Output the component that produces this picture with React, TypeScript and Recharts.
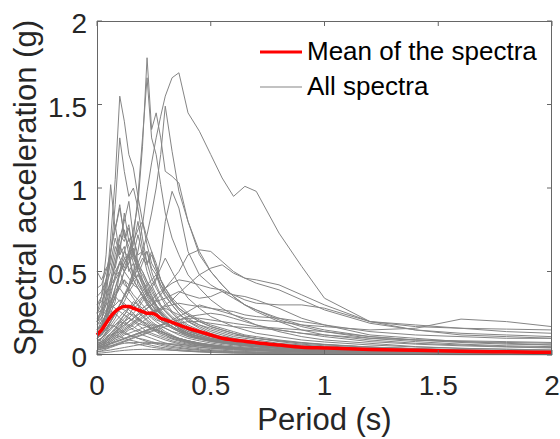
import React from 'react';
import { LineChart, Line, XAxis, YAxis } from 'recharts';

// periods (s) shared by every spectrum
const PERIODS = [0, 0.02, 0.04, 0.06, 0.08, 0.1, 0.12, 0.14, 0.16, 0.18, 0.2, 0.22, 0.24, 0.26, 0.28, 0.3, 0.33, 0.36, 0.4, 0.45, 0.5, 0.55, 0.6, 0.65, 0.7, 0.8, 0.9, 1.0, 1.2, 1.4, 1.6, 1.8, 2.0];

const MEAN_SA = [0.12, 0.15, 0.19, 0.23, 0.26, 0.28, 0.29, 0.29, 0.28, 0.27, 0.26, 0.25, 0.25, 0.24, 0.22, 0.21, 0.195, 0.18, 0.16, 0.14, 0.12, 0.1, 0.09, 0.082, 0.074, 0.06, 0.047, 0.042, 0.033, 0.028, 0.023, 0.019, 0.016];

// large records
const BIG_SPECTRA = [
  [0.12, 0.13, 0.16, 0.2, 0.24, 0.3, 0.36, 0.42, 0.5, 0.62, 0.78, 0.98, 1.15, 1.3, 1.43, 1.55, 1.66, 1.69, 1.45, 1.34, 1.2, 1.06, 0.95, 1.01, 0.98, 0.73, 0.53, 0.34, 0.2, 0.17, 0.16, 0.155, 0.15],
  [0.15, 0.18, 0.25, 0.3, 0.4, 0.5, 0.55, 0.6, 0.75, 0.9, 1.25, 1.78, 1.35, 1.45, 1.3, 1.1, 1.07, 1.03, 0.8, 0.62, 0.5, 0.42, 0.35, 0.3, 0.26, 0.2, 0.15, 0.12, 0.09, 0.07, 0.06, 0.05, 0.045],
  [0.13, 0.15, 0.2, 0.28, 0.35, 0.42, 0.5, 0.58, 0.7, 0.95, 1.3, 1.66, 1.3, 1.2, 1.02, 0.85, 0.7, 0.6, 0.48, 0.4, 0.33, 0.28, 0.24, 0.21, 0.18, 0.14, 0.11, 0.09, 0.07, 0.05, 0.04, 0.035, 0.03],
  [0.1, 0.12, 0.15, 0.2, 0.25, 0.3, 0.35, 0.4, 0.48, 0.55, 0.62, 0.72, 0.85, 1.0, 1.2, 1.49, 1.22, 0.98, 0.8, 0.6, 0.5, 0.42, 0.35, 0.3, 0.27, 0.21, 0.17, 0.14, 0.1, 0.08, 0.065, 0.055, 0.05],
  [0.2, 0.25, 0.4, 0.7, 1.05, 1.55, 1.4, 1.2, 1.12, 0.95, 0.8, 0.7, 0.62, 0.52, 0.45, 0.4, 0.33, 0.28, 0.24, 0.2, 0.17, 0.15, 0.13, 0.11, 0.1, 0.08, 0.065, 0.055, 0.04, 0.03, 0.025, 0.02, 0.018],
  [0.15, 0.2, 0.35, 0.6, 0.9, 1.3, 1.1, 0.95, 1.0, 0.88, 0.7, 0.55, 0.62, 0.55, 0.45, 0.38, 0.32, 0.27, 0.22, 0.18, 0.15, 0.13, 0.11, 0.1, 0.09, 0.07, 0.06, 0.05, 0.035, 0.028, 0.022, 0.018, 0.015],
  [0.25, 0.35, 0.6, 1.02, 0.75, 0.9, 0.7, 0.78, 0.6, 0.5, 0.45, 0.38, 0.33, 0.3, 0.27, 0.24, 0.2, 0.18, 0.15, 0.13, 0.11, 0.1, 0.09, 0.08, 0.07, 0.06, 0.05, 0.04, 0.03, 0.025, 0.02, 0.017, 0.015],
  [0.08, 0.09, 0.11, 0.13, 0.15, 0.18, 0.2, 0.22, 0.25, 0.28, 0.32, 0.36, 0.4, 0.45, 0.58, 0.8, 0.98, 0.88, 0.62, 0.48, 0.42, 0.38, 0.34, 0.3, 0.27, 0.22, 0.18, 0.15, 0.11, 0.09, 0.075, 0.065, 0.06],
];

// records with long-period content
const LONG_SPECTRA = [
  [0.06, 0.07, 0.08, 0.1, 0.12, 0.14, 0.16, 0.18, 0.2, 0.22, 0.25, 0.28, 0.3, 0.33, 0.36, 0.4, 0.45, 0.5, 0.6, 0.63, 0.62, 0.56, 0.5, 0.46, 0.43, 0.39, 0.33, 0.27, 0.19, 0.15, 0.12, 0.11, 0.1],
  [0.05, 0.06, 0.07, 0.08, 0.1, 0.11, 0.13, 0.15, 0.16, 0.18, 0.2, 0.22, 0.24, 0.26, 0.28, 0.3, 0.33, 0.37, 0.42, 0.48, 0.52, 0.54, 0.49, 0.46, 0.45, 0.42, 0.36, 0.3, 0.2, 0.15, 0.13, 0.12, 0.11],
  [0.05, 0.05, 0.06, 0.07, 0.08, 0.09, 0.1, 0.11, 0.12, 0.13, 0.14, 0.15, 0.16, 0.17, 0.18, 0.19, 0.21, 0.23, 0.26, 0.3, 0.28, 0.26, 0.24, 0.22, 0.21, 0.2, 0.18, 0.17, 0.15, 0.16, 0.215, 0.2, 0.17],
  [0.07, 0.08, 0.1, 0.12, 0.14, 0.16, 0.18, 0.2, 0.22, 0.24, 0.26, 0.28, 0.3, 0.32, 0.33, 0.34, 0.36, 0.38, 0.36, 0.34, 0.35, 0.38, 0.36, 0.33, 0.31, 0.3, 0.3, 0.28, 0.2, 0.18, 0.16, 0.14, 0.13],
  [0.06, 0.07, 0.09, 0.11, 0.13, 0.15, 0.17, 0.2, 0.22, 0.25, 0.28, 0.3, 0.33, 0.36, 0.38, 0.4, 0.43, 0.45, 0.44, 0.42, 0.4, 0.39, 0.36, 0.35, 0.33, 0.28, 0.22, 0.18, 0.12, 0.1, 0.08, 0.07, 0.06],
  [0.04, 0.045, 0.055, 0.065, 0.075, 0.085, 0.095, 0.105, 0.115, 0.125, 0.135, 0.145, 0.155, 0.165, 0.175, 0.185, 0.2, 0.21, 0.22, 0.22, 0.21, 0.2, 0.19, 0.18, 0.17, 0.16, 0.15, 0.14, 0.11, 0.09, 0.08, 0.075, 0.07],
  [0.05, 0.06, 0.07, 0.09, 0.11, 0.13, 0.15, 0.17, 0.19, 0.21, 0.23, 0.25, 0.26, 0.27, 0.28, 0.29, 0.3, 0.31, 0.3, 0.29, 0.28, 0.27, 0.26, 0.24, 0.23, 0.22, 0.2, 0.18, 0.14, 0.12, 0.11, 0.1, 0.1],
  [0.04, 0.05, 0.06, 0.07, 0.08, 0.09, 0.1, 0.11, 0.12, 0.13, 0.14, 0.15, 0.16, 0.17, 0.18, 0.19, 0.2, 0.21, 0.23, 0.24, 0.25, 0.24, 0.22, 0.2, 0.18, 0.15, 0.13, 0.11, 0.08, 0.065, 0.055, 0.048, 0.042],
  [0.03, 0.035, 0.04, 0.05, 0.06, 0.07, 0.08, 0.09, 0.1, 0.11, 0.12, 0.13, 0.14, 0.15, 0.16, 0.17, 0.18, 0.19, 0.2, 0.2, 0.19, 0.18, 0.17, 0.165, 0.16, 0.15, 0.13, 0.12, 0.1, 0.09, 0.085, 0.08, 0.075],
];

// medium short-period records
const MID_SPECTRA = [
  [0.1, 0.14, 0.25, 0.4, 0.55, 0.7, 0.8, 0.92, 0.7, 0.6, 0.62, 0.5, 0.42, 0.36, 0.3, 0.26, 0.22, 0.19, 0.15, 0.12, 0.1, 0.09, 0.08, 0.07, 0.06, 0.05, 0.04, 0.035, 0.025, 0.02, 0.016, 0.013, 0.011],
  [0.3, 0.35, 0.45, 0.55, 0.7, 0.6, 0.85, 0.68, 0.72, 0.55, 0.45, 0.4, 0.35, 0.3, 0.25, 0.22, 0.19, 0.16, 0.13, 0.11, 0.09, 0.08, 0.07, 0.06, 0.055, 0.045, 0.038, 0.032, 0.024, 0.019, 0.015, 0.013, 0.011],
  [0.2, 0.28, 0.45, 0.62, 0.78, 0.6, 0.65, 0.5, 0.55, 0.42, 0.38, 0.32, 0.28, 0.25, 0.22, 0.2, 0.17, 0.15, 0.12, 0.1, 0.085, 0.075, 0.065, 0.058, 0.05, 0.042, 0.035, 0.03, 0.022, 0.017, 0.014, 0.012, 0.01],
  [0.12, 0.15, 0.2, 0.28, 0.35, 0.42, 0.5, 0.55, 0.6, 0.72, 0.6, 0.62, 0.5, 0.42, 0.36, 0.32, 0.26, 0.22, 0.18, 0.15, 0.12, 0.1, 0.09, 0.08, 0.07, 0.058, 0.048, 0.04, 0.03, 0.024, 0.02, 0.017, 0.015],
  [0.18, 0.22, 0.3, 0.42, 0.55, 0.66, 0.58, 0.6, 0.48, 0.45, 0.38, 0.33, 0.3, 0.26, 0.22, 0.2, 0.17, 0.14, 0.12, 0.1, 0.085, 0.072, 0.063, 0.055, 0.05, 0.04, 0.034, 0.028, 0.02, 0.016, 0.013, 0.011, 0.01],
  [0.08, 0.1, 0.13, 0.18, 0.22, 0.28, 0.32, 0.38, 0.42, 0.48, 0.55, 0.62, 0.52, 0.48, 0.4, 0.35, 0.3, 0.25, 0.2, 0.17, 0.14, 0.12, 0.1, 0.09, 0.08, 0.065, 0.055, 0.045, 0.034, 0.027, 0.022, 0.019, 0.016],
  [0.5, 0.45, 0.52, 0.55, 0.48, 0.5, 0.42, 0.4, 0.36, 0.33, 0.3, 0.27, 0.24, 0.22, 0.2, 0.18, 0.16, 0.14, 0.12, 0.1, 0.085, 0.075, 0.066, 0.058, 0.052, 0.043, 0.036, 0.03, 0.022, 0.018, 0.015, 0.013, 0.011],
  [0.1, 0.13, 0.2, 0.28, 0.35, 0.4, 0.45, 0.42, 0.5, 0.44, 0.4, 0.35, 0.3, 0.27, 0.24, 0.22, 0.19, 0.16, 0.13, 0.11, 0.09, 0.08, 0.07, 0.062, 0.055, 0.045, 0.038, 0.032, 0.024, 0.019, 0.016, 0.014, 0.012],
  [0.06, 0.08, 0.1, 0.13, 0.16, 0.2, 0.24, 0.28, 0.3, 0.34, 0.38, 0.42, 0.45, 0.48, 0.42, 0.38, 0.32, 0.28, 0.24, 0.2, 0.17, 0.15, 0.13, 0.115, 0.1, 0.085, 0.072, 0.062, 0.047, 0.038, 0.031, 0.026, 0.022],
  [0.12, 0.15, 0.22, 0.3, 0.38, 0.42, 0.45, 0.38, 0.34, 0.3, 0.26, 0.23, 0.2, 0.18, 0.16, 0.14, 0.12, 0.1, 0.085, 0.07, 0.06, 0.052, 0.046, 0.04, 0.036, 0.03, 0.025, 0.021, 0.016, 0.013, 0.01, 0.009, 0.008],
  [0.4, 0.42, 0.5, 0.62, 0.75, 0.88, 0.72, 0.65, 0.55, 0.5, 0.42, 0.36, 0.32, 0.28, 0.25, 0.22, 0.19, 0.16, 0.13, 0.11, 0.09, 0.08, 0.07, 0.062, 0.055, 0.045, 0.037, 0.031, 0.023, 0.018, 0.015, 0.013, 0.011],
  [0.05, 0.06, 0.08, 0.1, 0.13, 0.16, 0.2, 0.24, 0.28, 0.3, 0.34, 0.38, 0.42, 0.46, 0.52, 0.58, 0.5, 0.42, 0.34, 0.28, 0.23, 0.2, 0.17, 0.15, 0.13, 0.11, 0.09, 0.078, 0.06, 0.048, 0.04, 0.034, 0.03],
  [0.15, 0.18, 0.25, 0.32, 0.4, 0.48, 0.55, 0.62, 0.68, 0.75, 0.8, 0.66, 0.55, 0.5, 0.42, 0.36, 0.3, 0.25, 0.2, 0.16, 0.13, 0.11, 0.1, 0.085, 0.075, 0.06, 0.05, 0.042, 0.031, 0.025, 0.02, 0.017, 0.015],
  [0.22, 0.26, 0.35, 0.45, 0.5, 0.55, 0.62, 0.7, 0.58, 0.52, 0.48, 0.42, 0.36, 0.3, 0.26, 0.23, 0.19, 0.16, 0.13, 0.11, 0.09, 0.08, 0.07, 0.06, 0.054, 0.044, 0.036, 0.03, 0.022, 0.017, 0.014, 0.012, 0.01],
  [0.35, 0.38, 0.45, 0.6, 0.52, 0.65, 0.75, 0.6, 0.62, 0.5, 0.44, 0.38, 0.34, 0.3, 0.26, 0.23, 0.2, 0.17, 0.14, 0.12, 0.1, 0.085, 0.075, 0.066, 0.058, 0.047, 0.039, 0.033, 0.024, 0.019, 0.016, 0.013, 0.011],
  [0.1, 0.12, 0.18, 0.25, 0.32, 0.5, 0.62, 0.58, 0.66, 0.8, 0.64, 0.55, 0.46, 0.4, 0.35, 0.3, 0.25, 0.21, 0.17, 0.14, 0.12, 0.1, 0.088, 0.077, 0.068, 0.055, 0.046, 0.039, 0.029, 0.023, 0.019, 0.016, 0.014],
  [0.25, 0.3, 0.42, 0.5, 0.65, 0.58, 0.52, 0.6, 0.45, 0.4, 0.36, 0.31, 0.27, 0.24, 0.21, 0.19, 0.16, 0.14, 0.11, 0.095, 0.08, 0.07, 0.062, 0.055, 0.049, 0.04, 0.033, 0.028, 0.021, 0.016, 0.013, 0.011, 0.01],
  [0.12, 0.15, 0.22, 0.35, 0.48, 0.56, 0.5, 0.55, 0.64, 0.52, 0.5, 0.44, 0.4, 0.34, 0.3, 0.27, 0.23, 0.2, 0.16, 0.13, 0.11, 0.095, 0.083, 0.073, 0.065, 0.053, 0.044, 0.037, 0.028, 0.022, 0.018, 0.015, 0.013],
  [0.08, 0.1, 0.14, 0.2, 0.26, 0.3, 0.35, 0.4, 0.46, 0.52, 0.58, 0.54, 0.6, 0.52, 0.45, 0.4, 0.34, 0.3, 0.25, 0.21, 0.18, 0.16, 0.14, 0.12, 0.11, 0.09, 0.075, 0.064, 0.048, 0.038, 0.031, 0.026, 0.022],
  [0.3, 0.32, 0.38, 0.42, 0.46, 0.55, 0.5, 0.46, 0.42, 0.4, 0.35, 0.3, 0.27, 0.24, 0.22, 0.2, 0.17, 0.15, 0.12, 0.1, 0.088, 0.076, 0.067, 0.059, 0.052, 0.042, 0.035, 0.03, 0.022, 0.017, 0.014, 0.012, 0.01],
  [0.14, 0.17, 0.25, 0.38, 0.45, 0.5, 0.58, 0.52, 0.45, 0.48, 0.42, 0.37, 0.33, 0.29, 0.25, 0.22, 0.19, 0.16, 0.13, 0.11, 0.092, 0.08, 0.07, 0.062, 0.055, 0.045, 0.037, 0.031, 0.023, 0.018, 0.015, 0.013, 0.011],
  [0.2, 0.24, 0.32, 0.45, 0.6, 0.72, 0.68, 0.76, 0.62, 0.55, 0.5, 0.44, 0.38, 0.33, 0.29, 0.26, 0.22, 0.19, 0.15, 0.13, 0.11, 0.095, 0.083, 0.073, 0.065, 0.053, 0.044, 0.037, 0.028, 0.022, 0.018, 0.015, 0.013],
];

// weak records
const LOW_SPECTRA = [
  [0.15, 0.18, 0.25, 0.32, 0.37, 0.4, 0.36, 0.33, 0.3, 0.27, 0.24, 0.21, 0.19, 0.17, 0.15, 0.13, 0.11, 0.095, 0.08, 0.065, 0.055, 0.048, 0.042, 0.037, 0.033, 0.027, 0.022, 0.019, 0.014, 0.011, 0.009, 0.008, 0.007],
  [0.08, 0.1, 0.13, 0.16, 0.2, 0.23, 0.26, 0.28, 0.3, 0.32, 0.35, 0.33, 0.3, 0.27, 0.25, 0.22, 0.19, 0.17, 0.14, 0.12, 0.1, 0.09, 0.08, 0.07, 0.063, 0.052, 0.044, 0.037, 0.028, 0.022, 0.018, 0.015, 0.013],
  [0.2, 0.22, 0.27, 0.3, 0.28, 0.26, 0.24, 0.22, 0.2, 0.18, 0.16, 0.14, 0.13, 0.12, 0.11, 0.1, 0.085, 0.075, 0.065, 0.055, 0.047, 0.041, 0.036, 0.032, 0.029, 0.024, 0.02, 0.017, 0.013, 0.01, 0.008, 0.007, 0.006],
  [0.06, 0.07, 0.1, 0.13, 0.16, 0.19, 0.22, 0.25, 0.24, 0.22, 0.2, 0.18, 0.16, 0.15, 0.13, 0.12, 0.1, 0.09, 0.075, 0.063, 0.054, 0.047, 0.041, 0.036, 0.032, 0.026, 0.022, 0.018, 0.013, 0.01, 0.008, 0.007, 0.006],
  [0.08, 0.1, 0.13, 0.16, 0.18, 0.2, 0.19, 0.17, 0.15, 0.14, 0.12, 0.11, 0.1, 0.09, 0.08, 0.072, 0.062, 0.054, 0.045, 0.038, 0.032, 0.028, 0.024, 0.021, 0.019, 0.015, 0.013, 0.011, 0.008, 0.006, 0.005, 0.004, 0.004],
  [0.03, 0.035, 0.045, 0.055, 0.065, 0.075, 0.085, 0.095, 0.105, 0.115, 0.125, 0.135, 0.145, 0.15, 0.14, 0.13, 0.115, 0.1, 0.085, 0.072, 0.062, 0.054, 0.047, 0.042, 0.038, 0.031, 0.026, 0.022, 0.016, 0.013, 0.011, 0.009, 0.008],
  [0.05, 0.06, 0.08, 0.1, 0.12, 0.11, 0.1, 0.09, 0.085, 0.078, 0.07, 0.064, 0.058, 0.052, 0.047, 0.043, 0.037, 0.032, 0.027, 0.022, 0.019, 0.016, 0.014, 0.012, 0.011, 0.009, 0.007, 0.006, 0.005, 0.004, 0.003, 0.003, 0.002],
  [0.02, 0.025, 0.035, 0.045, 0.055, 0.065, 0.08, 0.075, 0.07, 0.064, 0.058, 0.052, 0.047, 0.043, 0.039, 0.035, 0.03, 0.026, 0.022, 0.018, 0.015, 0.013, 0.011, 0.01, 0.009, 0.007, 0.006, 0.005, 0.004, 0.003, 0.002, 0.002, 0.002],
  [0.04, 0.05, 0.06, 0.08, 0.1, 0.12, 0.14, 0.16, 0.18, 0.2, 0.22, 0.24, 0.25, 0.26, 0.27, 0.28, 0.26, 0.24, 0.21, 0.18, 0.16, 0.14, 0.12, 0.11, 0.1, 0.085, 0.072, 0.062, 0.047, 0.037, 0.03, 0.026, 0.022],
  [0.25, 0.27, 0.3, 0.33, 0.35, 0.32, 0.3, 0.27, 0.25, 0.22, 0.2, 0.18, 0.16, 0.14, 0.13, 0.12, 0.1, 0.088, 0.075, 0.062, 0.053, 0.046, 0.04, 0.035, 0.031, 0.025, 0.021, 0.018, 0.013, 0.01, 0.008, 0.007, 0.006],
  [0.04, 0.05, 0.07, 0.09, 0.11, 0.13, 0.15, 0.17, 0.19, 0.22, 0.2, 0.19, 0.17, 0.15, 0.14, 0.13, 0.11, 0.1, 0.085, 0.07, 0.06, 0.052, 0.046, 0.04, 0.036, 0.03, 0.025, 0.021, 0.016, 0.012, 0.01, 0.008, 0.007],
  [0.01, 0.012, 0.015, 0.018, 0.022, 0.025, 0.028, 0.03, 0.032, 0.033, 0.034, 0.034, 0.033, 0.032, 0.031, 0.03, 0.028, 0.026, 0.023, 0.02, 0.018, 0.016, 0.014, 0.013, 0.012, 0.01, 0.008, 0.007, 0.005, 0.004, 0.003, 0.003, 0.003],
  [0.1, 0.12, 0.16, 0.18, 0.17, 0.15, 0.14, 0.12, 0.11, 0.1, 0.09, 0.08, 0.072, 0.065, 0.058, 0.052, 0.045, 0.04, 0.034, 0.028, 0.024, 0.021, 0.018, 0.016, 0.014, 0.012, 0.01, 0.008, 0.006, 0.005, 0.004, 0.003, 0.003],
  [0.1, 0.12, 0.16, 0.2, 0.25, 0.3, 0.36, 0.4, 0.45, 0.4, 0.36, 0.32, 0.28, 0.25, 0.22, 0.2, 0.17, 0.15, 0.12, 0.1, 0.085, 0.075, 0.066, 0.058, 0.052, 0.043, 0.036, 0.03, 0.022, 0.017, 0.014, 0.012, 0.01],
  [0.12, 0.14, 0.18, 0.22, 0.26, 0.28, 0.27, 0.25, 0.23, 0.21, 0.19, 0.17, 0.15, 0.14, 0.12, 0.11, 0.095, 0.083, 0.07, 0.058, 0.05, 0.043, 0.038, 0.034, 0.03, 0.025, 0.021, 0.018, 0.013, 0.01, 0.008, 0.007, 0.006],
  [0.05, 0.06, 0.08, 0.11, 0.14, 0.17, 0.2, 0.22, 0.21, 0.19, 0.18, 0.17, 0.16, 0.15, 0.14, 0.13, 0.11, 0.1, 0.085, 0.072, 0.062, 0.054, 0.048, 0.042, 0.038, 0.031, 0.026, 0.022, 0.016, 0.013, 0.01, 0.009, 0.008],
  [0.18, 0.2, 0.24, 0.26, 0.25, 0.22, 0.2, 0.18, 0.17, 0.15, 0.14, 0.13, 0.12, 0.11, 0.1, 0.09, 0.078, 0.068, 0.057, 0.047, 0.04, 0.035, 0.03, 0.027, 0.024, 0.02, 0.016, 0.014, 0.01, 0.008, 0.006, 0.005, 0.005],
  [0.03, 0.04, 0.05, 0.07, 0.09, 0.1, 0.12, 0.13, 0.14, 0.15, 0.16, 0.17, 0.18, 0.18, 0.17, 0.16, 0.14, 0.13, 0.11, 0.095, 0.082, 0.072, 0.064, 0.057, 0.051, 0.042, 0.035, 0.03, 0.022, 0.018, 0.015, 0.012, 0.011],
  [0.07, 0.08, 0.1, 0.12, 0.13, 0.14, 0.13, 0.12, 0.11, 0.1, 0.095, 0.088, 0.08, 0.073, 0.066, 0.06, 0.052, 0.046, 0.038, 0.032, 0.027, 0.023, 0.02, 0.018, 0.016, 0.013, 0.011, 0.009, 0.007, 0.005, 0.004, 0.004, 0.003],
  [0.02, 0.022, 0.026, 0.03, 0.035, 0.04, 0.045, 0.05, 0.055, 0.06, 0.064, 0.068, 0.07, 0.07, 0.068, 0.066, 0.062, 0.058, 0.052, 0.046, 0.041, 0.037, 0.033, 0.03, 0.028, 0.023, 0.02, 0.017, 0.013, 0.011, 0.009, 0.008, 0.007],
  [0.15, 0.17, 0.22, 0.28, 0.3, 0.33, 0.31, 0.28, 0.3, 0.26, 0.23, 0.2, 0.18, 0.16, 0.14, 0.13, 0.11, 0.095, 0.08, 0.066, 0.056, 0.049, 0.043, 0.038, 0.034, 0.028, 0.023, 0.019, 0.014, 0.011, 0.009, 0.008, 0.007],
  [0.06, 0.07, 0.09, 0.11, 0.14, 0.16, 0.18, 0.2, 0.22, 0.24, 0.26, 0.25, 0.23, 0.21, 0.2, 0.19, 0.17, 0.15, 0.13, 0.11, 0.095, 0.083, 0.073, 0.065, 0.058, 0.047, 0.039, 0.033, 0.025, 0.02, 0.016, 0.014, 0.012],
  [0.04, 0.045, 0.05, 0.055, 0.06, 0.065, 0.07, 0.072, 0.074, 0.075, 0.076, 0.076, 0.075, 0.074, 0.072, 0.07, 0.067, 0.064, 0.06, 0.055, 0.05, 0.046, 0.042, 0.039, 0.036, 0.031, 0.027, 0.024, 0.018, 0.015, 0.012, 0.011, 0.01],
  [0.09, 0.1, 0.12, 0.15, 0.18, 0.21, 0.24, 0.28, 0.32, 0.3, 0.28, 0.25, 0.22, 0.2, 0.18, 0.16, 0.14, 0.12, 0.1, 0.085, 0.072, 0.062, 0.055, 0.048, 0.043, 0.035, 0.029, 0.025, 0.018, 0.014, 0.012, 0.01, 0.009],
];

const X_TICKS = [0, 0.5, 1, 1.5, 2];
const Y_TICKS = [0, 0.5, 1, 1.5, 2];
const X_DOMAIN = [0, 2];
const Y_DOMAIN = [0, 2];

const ALL_SPECTRA = [...BIG_SPECTRA, ...LONG_SPECTRA, ...MID_SPECTRA, ...LOW_SPECTRA];

const data = PERIODS.map((T, i) => {
  const row: Record<string, number> = { T, mean: MEAN_SA[i] };
  ALL_SPECTRA.forEach((s, k) => {
    row[`s${k}`] = s[i];
  });
  return row;
});

const W = 560;
const H = 439;
const MARGIN = { top: 21, right: 8, bottom: 84, left: 97 };
// plot box that follows from the margins
const BOX = { left: MARGIN.left, top: MARGIN.top, right: W - MARGIN.right, bottom: H - MARGIN.bottom };
const sx = (v: number) => BOX.left + ((v - X_DOMAIN[0]) / (X_DOMAIN[1] - X_DOMAIN[0])) * (BOX.right - BOX.left);
const sy = (v: number) => BOX.bottom - ((v - Y_DOMAIN[0]) / (Y_DOMAIN[1] - Y_DOMAIN[0])) * (BOX.bottom - BOX.top);
const TICK_LEN = 5;

const FONT = '"Liberation Sans", Arial, Helvetica, sans-serif';
const TEXT = '#262626';
const AXIS = '#666666';
const GRAY = '#858585';

// MATLAB-like box: frame, inward ticks on all four sides, tick labels and titles
const AxesBox = () => (
  <svg width={W} height={H} style={{ position: 'absolute', left: 0, top: 0, pointerEvents: 'none' }}>
    <rect
      x={BOX.left + 0.5}
      y={BOX.top + 0.5}
      width={BOX.right - BOX.left - 1}
      height={BOX.bottom - BOX.top - 1}
      fill="none"
      stroke={AXIS}
      strokeWidth={1}
    />
    {X_TICKS.map((t) => (
      <g key={`x${t}`}>
        <line x1={sx(t)} y1={BOX.bottom} x2={sx(t)} y2={BOX.bottom - TICK_LEN} stroke={AXIS} />
        <line x1={sx(t)} y1={BOX.top} x2={sx(t)} y2={BOX.top + TICK_LEN} stroke={AXIS} />
        <text x={sx(t)} y={BOX.bottom + 40} textAnchor="middle" fontSize={28} fill={TEXT} fontFamily={FONT}>
          {t}
        </text>
      </g>
    ))}
    {Y_TICKS.map((t) => (
      <g key={`y${t}`}>
        <line x1={BOX.left} y1={sy(t)} x2={BOX.left + TICK_LEN} y2={sy(t)} stroke={AXIS} />
        <line x1={BOX.right} y1={sy(t)} x2={BOX.right - TICK_LEN} y2={sy(t)} stroke={AXIS} />
        <text x={BOX.left - 10} y={sy(t) + 12} textAnchor="end" fontSize={28} fill={TEXT} fontFamily={FONT}>
          {t}
        </text>
      </g>
    ))}
    <text x={(BOX.left + BOX.right) / 2} y={H - 9} textAnchor="middle" fontSize={31} fill={TEXT} fontFamily={FONT}>
      Period (s)
    </text>
    <text
      x={36}
      y={(BOX.top + BOX.bottom) / 2}
      transform={`rotate(-90 36 ${(BOX.top + BOX.bottom) / 2})`}
      textAnchor="middle"
      fontSize={31}
      fill={TEXT}
      fontFamily={FONT}
    >
      Spectral acceleration (g)
    </text>
    <line x1={260} y1={52} x2={302} y2={52} stroke="#ff0000" strokeWidth={3} />
    <text x={307} y={60} fontSize={26} fill="#000" fontFamily={FONT}>Mean of the spectra</text>
    <line x1={260} y1={87} x2={302} y2={87} stroke={GRAY} strokeWidth={1} />
    <text x={307} y={95} fontSize={26} fill="#000" fontFamily={FONT}>All spectra</text>
  </svg>
);

export default function App() {
  return (
    <div style={{ position: 'absolute', left: 0, top: 0, width: W, height: H, background: '#fff' }}>
      <LineChart width={W} height={H} data={data} margin={MARGIN}>
        <XAxis dataKey="T" type="number" domain={X_DOMAIN} ticks={X_TICKS} hide />
        <YAxis type="number" domain={Y_DOMAIN} ticks={Y_TICKS} hide />
        {ALL_SPECTRA.map((_, k) => (
          <Line
            key={k}
            dataKey={`s${k}`}
            type="linear"
            stroke={GRAY}
            strokeWidth={1}
            dot={false}
            activeDot={false}
            isAnimationActive={false}
          />
        ))}
        <Line dataKey="mean" type="monotone" stroke="#ff0000" strokeWidth={3.5} dot={false} activeDot={false} isAnimationActive={false} />
      </LineChart>
      <AxesBox />
    </div>
  );
}
